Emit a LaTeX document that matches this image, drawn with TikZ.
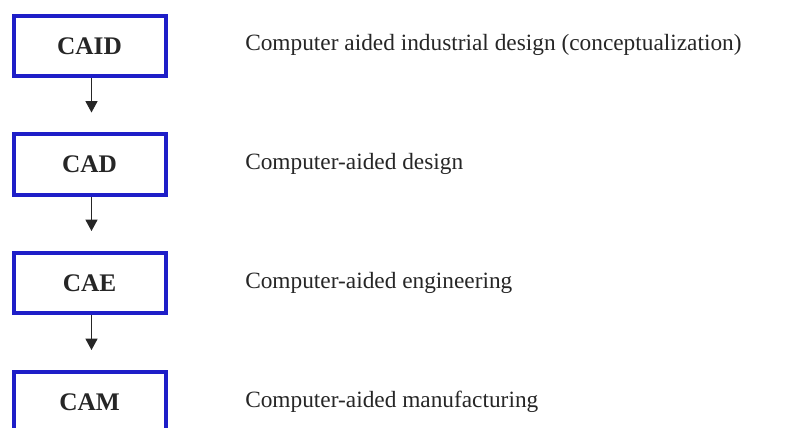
\documentclass[tikz,border=0pt]{standalone}
\usepackage{fontspec}
\setmainfont{Liberation Serif}
\usetikzlibrary{arrows.meta}
\definecolor{stageblue}{RGB}{30,30,200}
\tikzset{
    stagebox/.style={draw=stageblue, line width=3pt, fill=white, minimum width=114pt, minimum height=45pt, inner sep=0pt, font=\fontsize{19}{22}\selectfont\bfseries, text=black!85},
    stagetext/.style={anchor=west, inner sep=0pt, font=\fontsize{17.5}{20}\selectfont, text=black!85},
    flow/.style={draw=black!85, line width=1pt, shorten >=15pt, -{Triangle[width=9pt, length=8.5pt]}}
}
\begin{document}
\begin{tikzpicture}[x=0.75pt, y=-0.75pt]
            \useasboundingbox (0,0) rectangle (804,428);
            \node[stagebox] (caid) at (89.5, 46) {CAID};
            \node[stagebox] (cad) at (89.5, 164.5) {CAD};
            \node[stagebox] (cae) at (89.5, 283) {CAE};
            \node[stagebox] (cam) at (89.5, 402) {CAM};
            \node[stagetext] (caidtxt) at (245, 45) {Computer aided industrial design (conceptualization)};
            \node[stagetext] (cadtxt) at (245, 164) {Computer-aided design};
            \node[stagetext] (caetxt) at (245, 283) {Computer-aided engineering};
            \node[stagetext] (camtxt) at (245, 402) {Computer-aided manufacturing};
            \draw[flow] ([xshift=1.5pt]caid.south) -- ([xshift=1.5pt]cad.north);
            \draw[flow] ([xshift=1.5pt]cad.south) -- ([xshift=1.5pt]cae.north);
            \draw[flow] ([xshift=1.5pt]cae.south) -- ([xshift=1.5pt]cam.north);
        \end{tikzpicture}
\end{document}
